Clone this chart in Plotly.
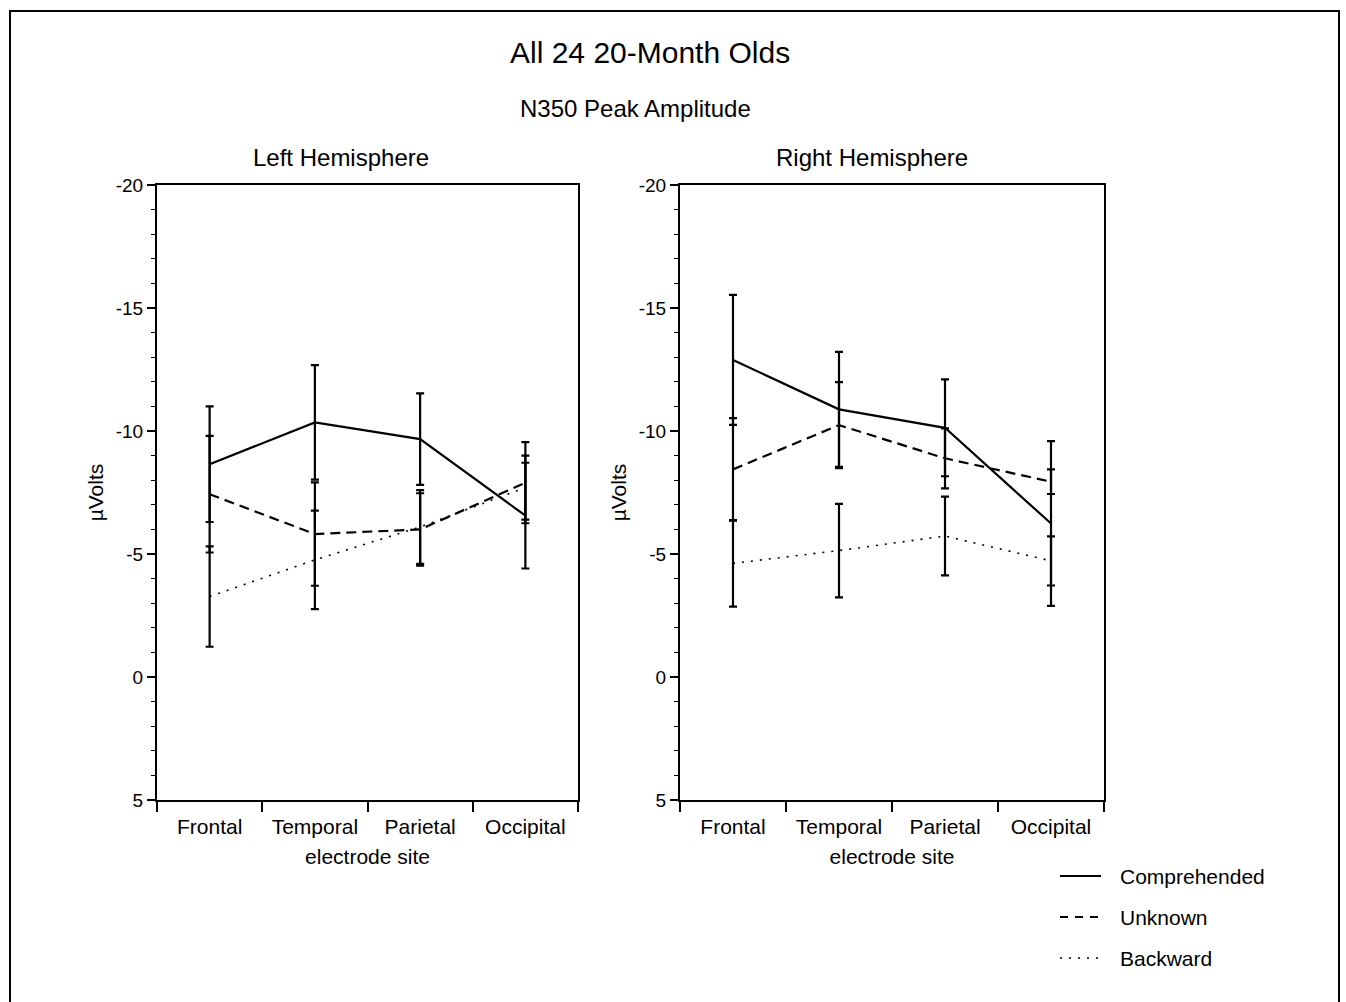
import plotly.graph_objects as go

sites = ["Frontal", "Temporal", "Parietal", "Occipital"]

# Left hemisphere (µV, negative up)
comp_left = [-8.65, -10.35, -9.67, -6.56]
comp_left_err = [2.35, 2.33, 1.86, 2.15]
unk_left = [-7.43, -5.81, -6.0, -7.9]
unk_left_err = [2.37, 2.1, 1.47, 1.65]
back_left = [-3.27, -4.76, -6.1, -7.7]
back_left_err = [2.04, 2.0, 1.5, 1.3]

# Right hemisphere
comp_right = [-12.89, -10.88, -10.13, -6.24]
comp_right_err = [2.64, 2.34, 1.97, 3.35]
unk_right = [-8.44, -10.24, -8.89, -7.94]
unk_right_err = [2.08, 1.75, 1.22, 0.5]
back_right = [-4.62, -5.14, -5.73, -4.72]
back_right_err = [1.76, 1.9, 1.6, 1.0]

y_ticks = [-20, -15, -10, -5, 0, 5]
y_tick_text = ["-20", "-15", "-10", "-5", "0", "5"]

series_names = ["Comprehended", "Unknown", "Backward"]
FONT = "Liberation Sans, Arial, Helvetica, sans-serif"
W, H = 1346, 1002

styles = {
    "Comprehended": dict(color="black", width=2.2, dash="solid"),
    "Unknown": dict(color="black", width=2.2, dash="10px,6px"),
    "Backward": dict(color="black", width=1.6, dash="2px,7px"),
}

fig = go.Figure()

panels = [
    ("x", "y", [comp_left, unk_left, back_left], [comp_left_err, unk_left_err, back_left_err]),
    ("x2", "y2", [comp_right, unk_right, back_right], [comp_right_err, unk_right_err, back_right_err]),
]
for xa, ya, vals, errs in panels:
    for name, v, e in zip(series_names, vals, errs):
        fig.add_trace(go.Scatter(
            x=sites, y=v, mode="lines", name=name, xaxis=xa, yaxis=ya,
            line=styles[name], showlegend=False,
            error_y=dict(type="data", array=e, visible=True, color="black",
                         thickness=2.2, width=4),
        ))

def yax(anchor):
    return dict(
        anchor=anchor, automargin=False,
        range=[5, -20], tickmode="array", tickvals=y_ticks, ticktext=y_tick_text,
        ticks="outside", ticklen=8, tickwidth=1.5, tickcolor="black",
        minor=dict(tick0=0, dtick=1, ticks="outside", ticklen=4, tickwidth=1, tickcolor="black"),
        showline=True, linecolor="black", linewidth=2, mirror=True,
        showgrid=False, zeroline=False,
        tickfont=dict(family=FONT, size=19, color="black"),
        title=dict(text="µVolts", font=dict(family=FONT, size=21, color="black"), standoff=6),
        domain=[1 - 800 / H, 1 - 185 / H],
    )

def xax(anchor, x0, x1):
    return dict(
        anchor=anchor, automargin=False,
        type="category", categoryorder="array", categoryarray=sites,
        range=[-0.5, 3.5], tickson="boundaries",
        ticks="outside", ticklen=10, tickwidth=1.5, tickcolor="black",
        ticklabelstandoff=7,
        showline=True, linecolor="black", linewidth=2, mirror=True,
        showgrid=False, zeroline=False,
        tickfont=dict(family=FONT, size=21, color="black"),
        title=dict(text="electrode site", font=dict(family=FONT, size=21, color="black"), standoff=12),
        domain=[x0 / W, x1 / W],
    )

fig.update_layout(
    width=W, height=H,
    margin=dict(l=0, r=0, t=0, b=0, autoexpand=False),
    paper_bgcolor="white", plot_bgcolor="white",
    font=dict(family=FONT, color="black"),
    xaxis=xax("y", 157, 578),
    xaxis2=xax("y2", 680, 1104),
    yaxis=yax("x"),
    yaxis2=yax("x2"),
)

def ann(text, x, y, size, xanchor="center"):
    fig.add_annotation(text=text, x=x / W, y=1 - y / H, xref="paper", yref="paper",
                       xanchor=xanchor, yanchor="middle",
                       showarrow=False, font=dict(family=FONT, size=size, color="black"))

ann("All 24 20-Month Olds", 650, 52, 30)
ann("N350 Peak Amplitude", 635, 109, 24)
ann("Left Hemisphere", 341, 158, 24)
ann("Right Hemisphere", 872, 158, 24)

# legend (manual)
leg_y = [876, 917, 958]
leg_dash = {"Comprehended": "solid", "Unknown": "8px,7px", "Backward": "2px,7px"}
leg_width = {"Comprehended": 2.2, "Unknown": 2.2, "Backward": 1.4}
for name, ly in zip(series_names, leg_y):
    fig.add_shape(type="line", xref="paper", yref="paper",
                  x0=1060 / W, x1=1101 / W, y0=1 - ly / H, y1=1 - ly / H,
                  line=dict(color="black", width=leg_width[name], dash=leg_dash[name]))
    ann(name, 1118, ly, 21, xanchor="left")

# outer frame
fig.add_shape(type="rect", xref="paper", yref="paper",
              x0=10 / W, x1=1339 / W, y0=-0.05, y1=1 - 11 / H,
              line=dict(color="black", width=2))

fig.write_html("out.html", config={"displayModeBar": False},
               post_script="document.body.style.margin='0';document.body.style.overflow='hidden';")
